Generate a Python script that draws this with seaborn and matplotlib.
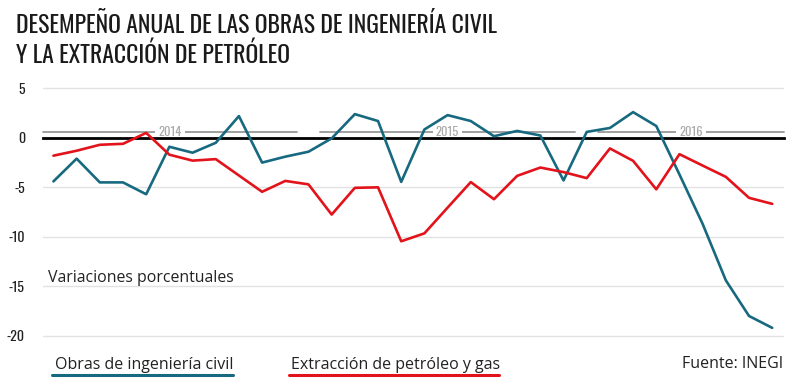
import matplotlib
matplotlib.use("Agg")
import matplotlib.pyplot as plt
from matplotlib import font_manager as fm
import seaborn as sns
import numpy as np
import pandas as pd

# variaciones porcentuales anuales, mensual
obras = [-4.4, -2.1, -4.5, -4.5, -5.7, -0.9, -1.5, -0.5, 2.2, -2.5, -1.9, -1.4,
         -0.05, 2.4, 1.7, -4.45, 0.85, 2.3, 1.7, 0.17, 0.7, 0.24, -4.3, 0.6,
         1.0, 2.6, 1.2, -3.7, -8.7, -14.4, -18.0, -19.2]
petroleo = [-1.8, -1.3, -0.7, -0.6, 0.5, -1.7, -2.3, -2.15, -3.8, -5.45, -4.35, -4.7,
            -7.75, -5.05, -5.0, -10.45, -9.65, -7.05, -4.47, -6.2, -3.84, -3.0, -3.46, -4.07,
            -1.07, -2.32, -5.2, -1.65, -2.8, -3.94, -6.06, -6.67]
series = ["Obras de ingeniería civil", "Extracción de petróleo y gas"]
colores = ["#17697f", "#e3131b"]
anios = ["2014", "2015", "2016"]
tramos = [(-0.45, 10.5), (11.5, 22.5), (23.5, 31.5)]
yticks = [5, 0, -5, -10, -15, -20]

n = len(obras)
df = pd.DataFrame({
    "mes": list(range(n)) * 2,
    "valor": obras + petroleo,
    "serie": [series[0]] * n + [series[1]] * n,
})


def fuente_estrecha():
    # busca una fuente condensada instalada, si no la hay usa DejaVu Sans
    fonts = fm.fontManager.ttflist
    normal = lambda f: f.style == "normal" and str(f.weight).lower() in ("300", "400", "normal", "regular", "light", "book")
    for p in ["Oswald", "Roboto Condensed", "Liberation Sans Narrow", "Open Sans Condensed",
              "Noto Sans Condensed", "DejaVu Sans Condensed", "Arial Narrow"]:
        for f in fonts:
            if f.name == p and normal(f):
                return f.fname
    for f in fonts:
        if f.stretch in ("condensed", "semi-condensed", "extra-condensed") and normal(f):
            return f.fname
    for f in fonts:
        fn = f.fname
        if ("Condensed" in fn or "Narrow" in fn) and not any(s in fn for s in ["Bold", "Italic", "Oblique"]):
            return fn
    return None


ruta = fuente_estrecha()


def fp(size):
    if ruta:
        return fm.FontProperties(fname=ruta, size=size)
    return fm.FontProperties(family="DejaVu Sans", size=size)


sns.set_style("white")
plt.rcParams["font.family"] = ["Open Sans", "DejaVu Sans"]

fig = plt.figure(figsize=(8, 3.91), dpi=100)
ax = fig.add_axes([0.05375, 0.1286, 0.926, 0.658])

for y in yticks:
    ax.axhline(y, color="#e2e2e2", lw=1, zorder=0)

sns.lineplot(data=df, x="mes", y="valor", hue="serie", palette=colores,
             linewidth=1.9, legend=False, ax=ax, zorder=3)

ax.set_xlim(-0.45, 31.5)
ax.set_ylim(-20.5, 5.5)
ax.set_yticks(yticks)
ax.set_yticklabels([str(v) for v in yticks], fontproperties=fp(10), color="#222222")
ax.tick_params(axis="y", length=0, pad=13)
ax.set_xticks(np.arange(n) + 0.5)
ax.set_xticklabels([])
ax.tick_params(axis="x", direction="out", length=5, width=1.5, color="black")
for s in ["top", "right", "left"]:
    ax.spines[s].set_visible(False)
ax.spines["bottom"].set_position(("data", 0))
ax.spines["bottom"].set_linewidth(2)
ax.spines["bottom"].set_color("black")
ax.spines["bottom"].set_zorder(2)
ax.set_xlabel("")
ax.set_ylabel("")

# tramos de años
for anio, (a, b) in zip(anios, tramos):
    ax.plot([a, b], [0.6, 0.6], color="#999999", lw=1.3, zorder=1, clip_on=False)
    ax.text((a + b) / 2, 0.6, anio, ha="center", va="center", fontproperties=fp(9),
            color="#aaaaaa", zorder=1,
            bbox=dict(boxstyle="square,pad=0.25", fc="white", ec="none"))

ax.text(0.0065, 0.227, "Variaciones porcentuales", transform=ax.transAxes,
        fontsize=11.4, color="#222222", va="baseline")

t1 = fig.text(0.02, 1 - 33 / 391, "DESEMPEÑO ANUAL DE LAS OBRAS DE INGENIERÍA CIVIL",
              fontproperties=fp(20), color="#1a1a1a", va="baseline")
t2 = fig.text(0.02, 1 - 63 / 391, "Y LA EXTRACCIÓN DE PETRÓLEO",
              fontproperties=fp(20), color="#1a1a1a", va="baseline")

# ajustar el tamaño del título al ancho del original
fig.canvas.draw()
r = fig.canvas.get_renderer()
w = t1.get_window_extent(r).width
if w > 0:
    size = 20 * 481 / w
    size = min(size, 24)
    t1.set_fontproperties(fp(size))
    t2.set_fontproperties(fp(size))

# leyenda subrayada
fig.text(55 / 800, 1 - 369 / 391, series[0], fontsize=11.5, color="#222222", va="baseline")
fig.text(291 / 800, 1 - 369 / 391, series[1], fontsize=11.5, color="#222222", va="baseline")
fig.add_artist(plt.Line2D([52 / 800, 233 / 800], [1 - 375 / 391] * 2, color=colores[0], lw=2.2))
fig.add_artist(plt.Line2D([289 / 800, 499 / 800], [1 - 375 / 391] * 2, color=colores[1], lw=2.2))
fig.text(783 / 800, 1 - 368 / 391, "Fuente: INEGI", fontsize=11.5, color="#222222",
         va="baseline", ha="right")

fig.savefig("out.png", dpi=100)
